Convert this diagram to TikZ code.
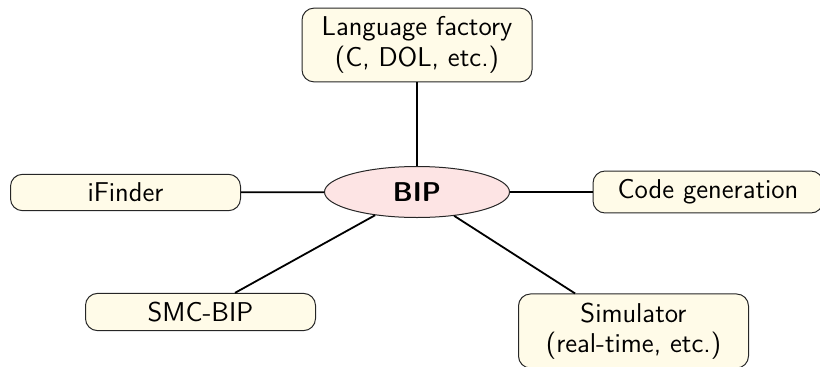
\documentclass[tikz,border=0pt]{standalone}
\usetikzlibrary{shapes.geometric}
\definecolor{boxfill}{RGB}{255,251,232}
\definecolor{hubfill}{RGB}{253,228,228}
\tikzset{
  tool/.style={draw=black!85, line width=0.5pt, fill=boxfill, rounded corners=6pt,
    minimum width=115pt, align=center, inner sep=4.3pt,
    font=\sffamily\fontsize{13.6}{15.3}\selectfont},
  hub/.style={ellipse, draw=black!85, line width=0.5pt, fill=hubfill,
    minimum width=92.5pt, minimum height=25.5pt, inner sep=0pt,
    font=\sffamily\bfseries\fontsize{13.6}{15.3}\selectfont},
  link/.style={line width=0.9pt, black}
}
\begin{document}
\begin{tikzpicture}[x=1pt,y=1pt]
  \useasboundingbox (0,0) rectangle (410,183);
  \node[hub] (bip) at (208.5,87) {BIP};
  \node[tool] (lang) at (208.5,160.5) {Language factory\\(C, DOL, etc.)};
  \node[tool] (ifinder) at (62.75,86.75) {iFinder};
  \node[tool] (codegen) at (354,87) {Code generation};
  \node[tool] (smc) at (100.25,27) {SMC-BIP};
  \node[tool] (sim) at (316.75,17.5) {Simulator\\(real-time, etc.)};
  \draw[link] (bip) -- (lang);
  \draw[link] (bip) -- (ifinder);
  \draw[link] (bip) -- (codegen);
  \draw[link] (bip) -- (smc);
  \draw[link] (bip) -- (sim);
\end{tikzpicture}
\end{document}
